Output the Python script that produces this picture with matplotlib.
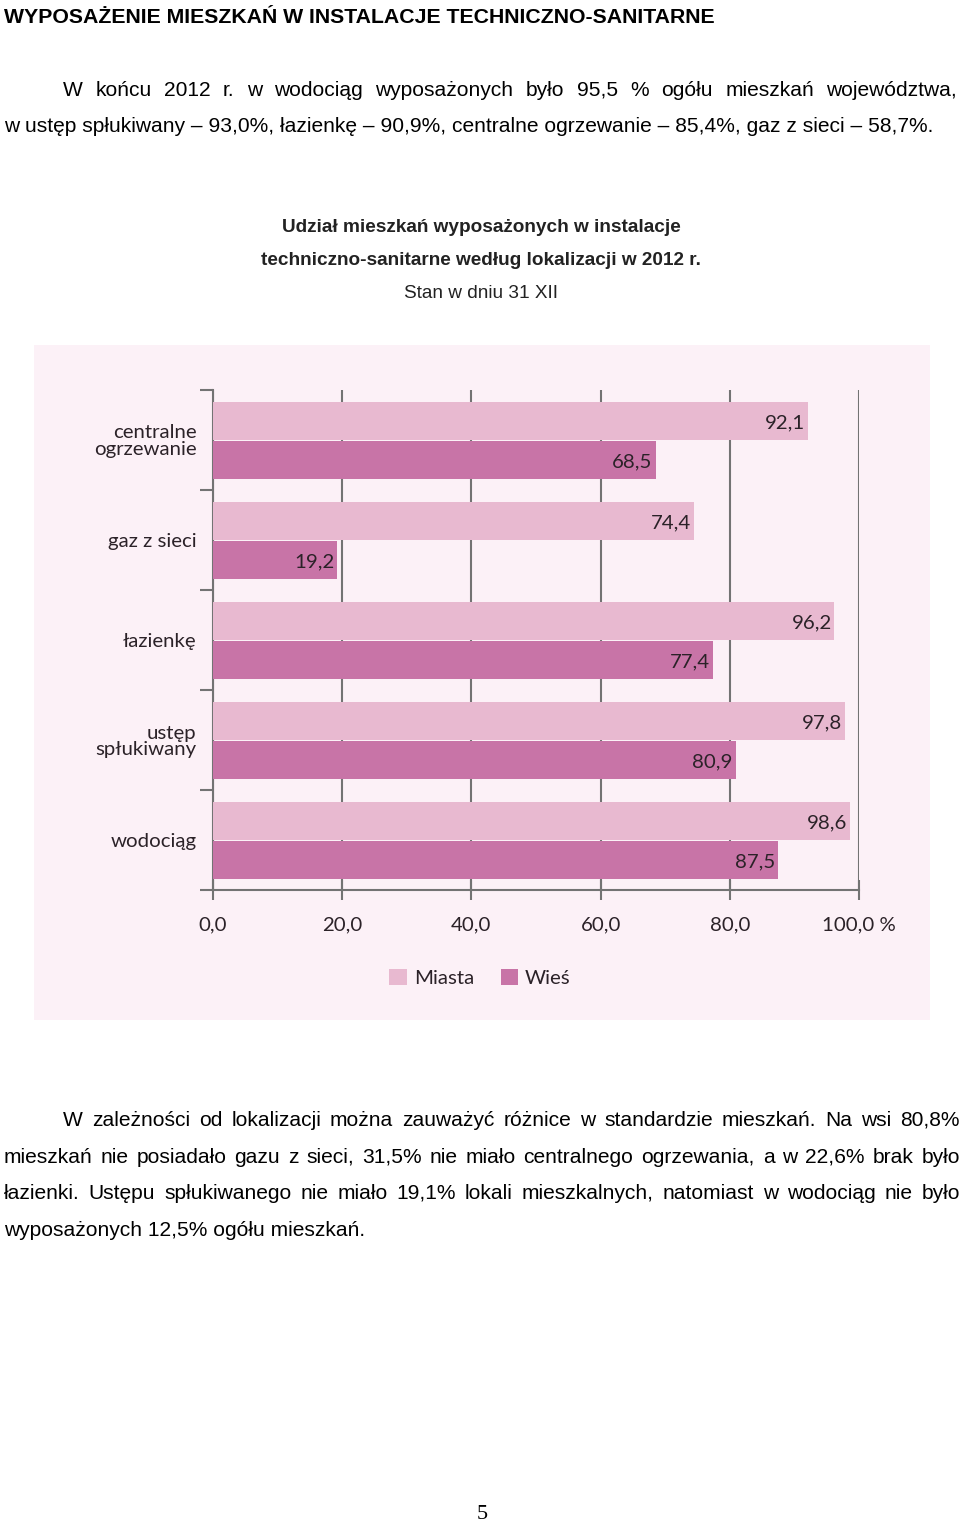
import matplotlib
matplotlib.use("Agg")
import matplotlib.pyplot as plt
import numpy as np
from matplotlib.patches import Rectangle, Patch

# dane z wykresu
categories = ["centralne\nogrzewanie", "gaz z sieci", "łazienkę", "ustęp\nspłukiwany", "wodociąg"]
miasta = [92.1, 74.4, 96.2, 97.8, 98.6]
wies = [68.5, 19.2, 77.4, 80.9, 87.5]
xticks = [0, 20, 40, 60, 80, 100]
xticklabels = ["0,0", "20,0", "40,0", "60,0", "80,0", "100,0 %"]
series_names = ["Miasta", "Wieś"]

heading = "WYPOSAŻENIE MIESZKAŃ W INSTALACJE TECHNICZNO-SANITARNE"
para1 = ["W końcu 2012 r. w wodociąg wyposażonych było 95,5 % ogółu mieszkań województwa,",
         "w ustęp spłukiwany – 93,0%, łazienkę – 90,9%, centralne ogrzewanie – 85,4%, gaz z sieci – 58,7%."]
para2 = ["W zależności od lokalizacji można zauważyć różnice w standardzie mieszkań. Na wsi 80,8%",
         "mieszkań nie posiadało gazu z sieci, 31,5% nie miało centralnego ogrzewania, a w 22,6% brak było",
         "łazienki. Ustępu spłukiwanego nie miało 19,1% lokali mieszkalnych, natomiast w wodociąg nie było",
         "wyposażonych 12,5% ogółu mieszkań."]
chart_title = ["Udział mieszkań wyposażonych w instalacje",
               "techniczno-sanitarne według lokalizacji w 2012 r."]
chart_sub = "Stan w dniu 31 XII"

c_miasta = "#e8b9d0"
c_wies = "#c874a7"
c_grid = "#737373"
c_txt = "#2b2228"

W, H = 960, 1523
fig = plt.figure(figsize=(9.6, 15.23), dpi=100)
fig.patch.set_facecolor("white")
r = fig.canvas.get_renderer()

def fx(x):
    return x / W

def fy(y):
    return 1 - y / H

def base(y, size):
    # linia bazowa tekstu o środku wielkich liter w y
    return fy(y + 0.358 * size * 100 / 72)

body = "Liberation Sans"
chartfont = "Lato"

def width_of(s, size, **kw):
    t = fig.text(0, 0, s, fontsize=size, **kw)
    w = t.get_window_extent(r).width
    t.remove()
    return w

def fit_size(s, target, **kw):
    return round(10 * target / width_of(s, 10, **kw), 1)

def justify(line, x0, x1, y, size, **kw):
    words = line.split(" ")
    ws = [width_of(w, size, **kw) for w in words]
    gap = (x1 - x0 - sum(ws)) / (len(words) - 1)
    x = x0
    for w, wd in zip(words, ws):
        fig.text(fx(x), base(y, size), w, fontsize=size, va="baseline", ha="left", **kw)
        x += wd + gap

# tekst strony
hs = fit_size(heading, 709, family=body, fontweight="bold")
fig.text(fx(4), base(15, hs), heading, fontsize=hs, family=body, fontweight="bold", va="baseline")

bs = fit_size(para1[1], 930, family=body)
justify(para1[0], 63, 957, 88, bs, family=body)
fig.text(fx(4), base(124, bs), para1[1], fontsize=bs, family=body, va="baseline")

justify(para2[0], 63, 960, 1118, bs, family=body)
justify(para2[1], 4, 960, 1155, bs, family=body)
justify(para2[2], 4, 960, 1191, bs, family=body)
fig.text(fx(4), base(1228, bs), para2[3], fontsize=bs, family=body, va="baseline")

ts = fit_size(chart_title[0], 398, family=body, fontweight="bold")
fig.text(fx(481), base(225, ts), chart_title[0], fontsize=ts, family=body, fontweight="bold",
         ha="center", va="baseline", color="#222222")
fig.text(fx(481), base(258, ts), chart_title[1], fontsize=ts, family=body, fontweight="bold",
         ha="center", va="baseline", color="#222222")
fig.text(fx(481), base(291, ts), chart_sub, fontsize=ts, family=body,
         ha="center", va="baseline", color="#222222")

fig.text(fx(482), base(1511, 16), "5", fontsize=16, family="Liberation Serif", ha="center", va="baseline")

# tło wykresu
fig.patches.append(Rectangle((fx(34), fy(1020)), 896 / W, 675 / H, transform=fig.transFigure,
                             facecolor="#fcf1f7", edgecolor="none", zorder=-5))

ax = fig.add_axes([fx(213), fy(890), 646 / W, 500 / H])
ax.set_zorder(2)
ax.set_facecolor("none")
y = np.arange(len(categories))
ax.barh(y + 0.31, miasta, height=0.38, color=c_miasta, zorder=3)
ax.barh(y + 0.70, wies, height=0.38, color=c_wies, zorder=3)

fs = 14.65
for i in range(len(categories)):
    ax.annotate(f"{miasta[i]:.1f}".replace(".", ","), (miasta[i], i + 0.31), xytext=(-2, -1),
                textcoords="offset points", ha="right", va="center", fontsize=fs,
                family=chartfont, color=c_txt, zorder=4)
    ax.annotate(f"{wies[i]:.1f}".replace(".", ","), (wies[i], i + 0.70), xytext=(-2, -1),
                textcoords="offset points", ha="right", va="center", fontsize=fs,
                family=chartfont, color=c_txt, zorder=4)

ax.set_xlim(0, 100)
ax.set_ylim(5, 0)
ax.set_xticks(xticks)
ax.set_xticklabels(xticklabels, fontsize=fs, family=chartfont, color=c_txt)
ax.set_yticks(np.arange(6))
ax.set_yticklabels([])
ax.set_yticks(y + 0.5, minor=True)
ax.set_yticklabels(categories, minor=True, fontsize=fs, family=chartfont, color=c_txt,
                   linespacing=0.95)
ax.tick_params(axis="y", which="major", direction="out", length=9.4, width=1.5, color=c_grid)
ax.tick_params(axis="y", which="minor", length=0, pad=12)
ax.tick_params(axis="x", direction="inout", length=14.4, width=1.5, color=c_grid, pad=12)
ax.grid(axis="x", color=c_grid, linewidth=1.5)
ax.set_axisbelow(True)
for s in ["top", "right"]:
    ax.spines[s].set_visible(False)
for s in ["left", "bottom"]:
    ax.spines[s].set_color(c_grid)
    ax.spines[s].set_linewidth(1.5)

handles = [Patch(facecolor=c_miasta), Patch(facecolor=c_wies)]
fig.legend(handles, series_names, loc="center", bbox_to_anchor=(fx(480), fy(978)), ncol=2,
           frameon=False, prop={"family": chartfont, "size": fs}, handlelength=0.85,
           handleheight=0.85, handletextpad=0.35, columnspacing=1.3, labelcolor=c_txt)

fig.savefig("out.png", dpi=100)
